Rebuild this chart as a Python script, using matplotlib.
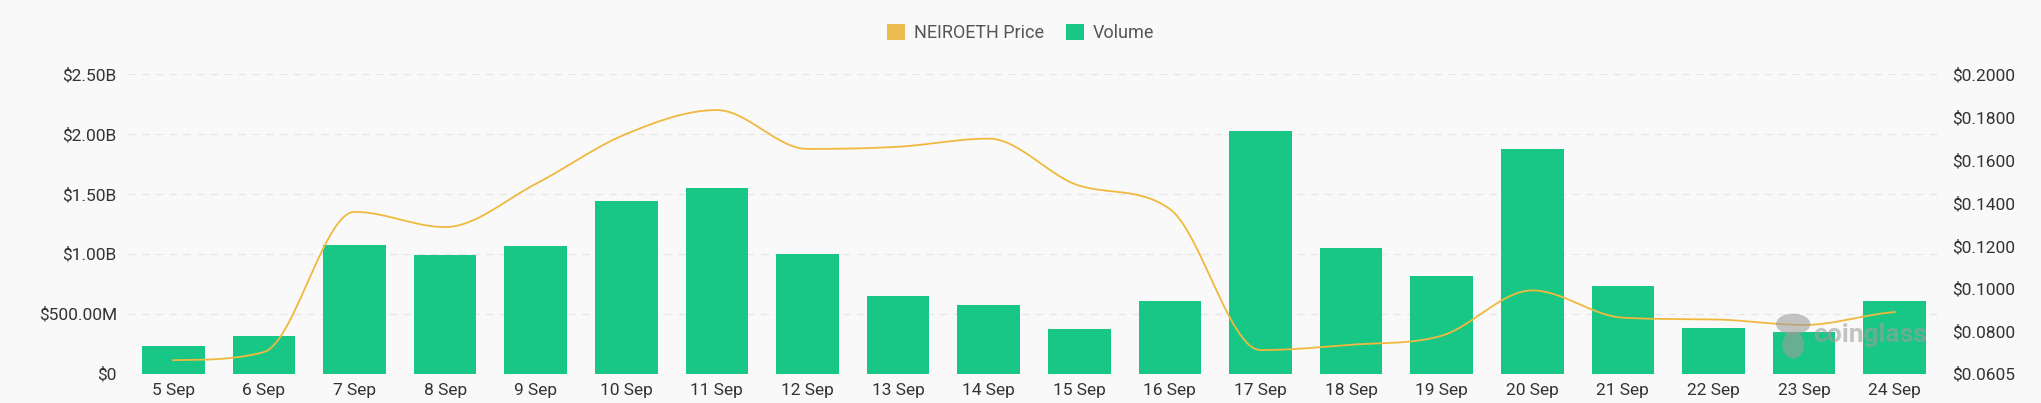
import numpy as np
import matplotlib.pyplot as plt
from matplotlib.patches import Patch, Ellipse

plt.rcParams['font.family'] = ['Roboto', 'DejaVu Sans']

dates = ['5 Sep', '6 Sep', '7 Sep', '8 Sep', '9 Sep', '10 Sep', '11 Sep', '12 Sep',
         '13 Sep', '14 Sep', '15 Sep', '16 Sep', '17 Sep', '18 Sep', '19 Sep', '20 Sep',
         '21 Sep', '22 Sep', '23 Sep', '24 Sep']
volume = [0.227, 0.311, 1.074, 0.988, 1.066, 1.44, 1.548, 0.997, 0.645, 0.573,
          0.372, 0.603, 2.028, 1.047, 0.815, 1.877, 0.734, 0.38, 0.347, 0.603]  # billions
price = [0.0667, 0.0705, 0.1358, 0.1287, 0.1488, 0.1721, 0.1832, 0.1651, 0.1661, 0.1699,
         0.1480, 0.1371, 0.0714, 0.0739, 0.0781, 0.0992, 0.0865, 0.0857, 0.0831, 0.0891]

left_ticks = [0, 0.5e9, 1.0e9, 1.5e9, 2.0e9, 2.5e9]
left_labels = ['$0', '$500.00M', '$1.00B', '$1.50B', '$2.00B', '$2.50B']
right_ticks = [0.0605, 0.08, 0.10, 0.12, 0.14, 0.16, 0.18, 0.20]
right_labels = ['$0.0605', '$0.0800', '$0.1000', '$0.1200', '$0.1400', '$0.1600', '$0.1800', '$0.2000']

BG = '#f9f9f9'
BAR = '#18c786'
LINE = '#f0b93e'
TXT = '#333333'


def smooth(x, y, n=30):
    # cubic hermite with catmull-rom tangents, flat at local extrema (drawing only)
    x = np.asarray(x, float)
    y = np.asarray(y, float)
    d = np.diff(y) / np.diff(x)
    m = np.zeros_like(y)
    m[0], m[-1] = d[0] * 0.5, d[-1] * 0.5
    for i in range(1, len(y) - 1):
        if d[i - 1] * d[i] > 0:
            m[i] = (d[i - 1] + d[i]) / 2
    for i in range(len(d)):
        if d[i] == 0:
            continue
        a, b = m[i] / d[i], m[i + 1] / d[i]
        r = a * a + b * b
        if r > 9:
            k = 3 / np.sqrt(r)
            m[i] *= k
            m[i + 1] *= k
    xs, ys = [], []
    for i in range(len(x) - 1):
        t = np.linspace(0, 1, n, endpoint=False)
        h = x[i + 1] - x[i]
        h00 = 2 * t**3 - 3 * t**2 + 1
        h10 = t**3 - 2 * t**2 + t
        h01 = -2 * t**3 + 3 * t**2
        h11 = t**3 - t**2
        xs.append(x[i] + t * h)
        ys.append(h00 * y[i] + h10 * h * m[i] + h01 * y[i + 1] + h11 * h * m[i + 1])
    xs.append([x[-1]])
    ys.append([y[-1]])
    return np.concatenate(xs), np.concatenate(ys)


fig = plt.figure(figsize=(20.41, 4.03), dpi=100, facecolor=BG)
ax = fig.add_axes([0.0627, 0.0732, 0.8878, 0.7432])
ax.set_facecolor(BG)

pos = np.arange(len(dates))
ax.bar(pos, np.array(volume) * 1e9, width=0.69, color=BAR, zorder=2)
ax.set_xlim(-0.5, len(dates) - 0.5)
ax.set_ylim(0, 2.5e9)
ax.set_yticks(left_ticks)
ax.set_yticklabels(left_labels)
ax.set_xticks(pos)
ax.set_xticklabels(dates)
ax.grid(axis='y', color='#e6e6e6', linestyle=(0, (6, 5)), linewidth=0.9, zorder=0)
for s in ax.spines.values():
    s.set_visible(False)
ax.tick_params(axis='both', length=0, labelsize=12.5, labelcolor=TXT)
ax.tick_params(axis='y', pad=8)
ax.tick_params(axis='x', pad=7)

ax2 = ax.twinx()
sx, sy = smooth(pos, price)
ax2.plot(sx, sy, color=LINE, linewidth=1.3, zorder=3)
ax2.set_ylim(0.0605, 0.2)
ax2.set_yticks(right_ticks)
ax2.set_yticklabels(right_labels)
for s in ax2.spines.values():
    s.set_visible(False)
ax2.tick_params(axis='y', length=0, labelsize=12.5, labelcolor=TXT, pad=9)

# watermark
wm = '#9e9e9e'
ax2.text(0.993, 0.128, 'coinglass', transform=ax.transAxes, ha='right', va='center',
         fontsize=19, fontweight='bold', color=wm, alpha=0.6, zorder=5)
ax2.add_patch(Ellipse((0.919, 0.165), 0.019, 0.07, transform=ax.transAxes,
                      facecolor=wm, edgecolor='none', alpha=0.6, zorder=5))
ax2.add_patch(Ellipse((0.919, 0.095), 0.012, 0.09, transform=ax.transAxes,
                      facecolor=wm, edgecolor='none', alpha=0.6, zorder=5))

handles = [Patch(facecolor='#ebbb4f', edgecolor='none'), Patch(facecolor=BAR, edgecolor='none')]
fig.legend(handles, ['NEIROETH Price', 'Volume'], loc='center', bbox_to_anchor=(0.5, 0.919),
           ncol=2, frameon=False, fontsize=13, labelcolor='#555555',
           handlelength=1.0, handleheight=1.0, handletextpad=0.5, columnspacing=1.2)

fig.savefig('out.png', dpi=100, facecolor=BG)
